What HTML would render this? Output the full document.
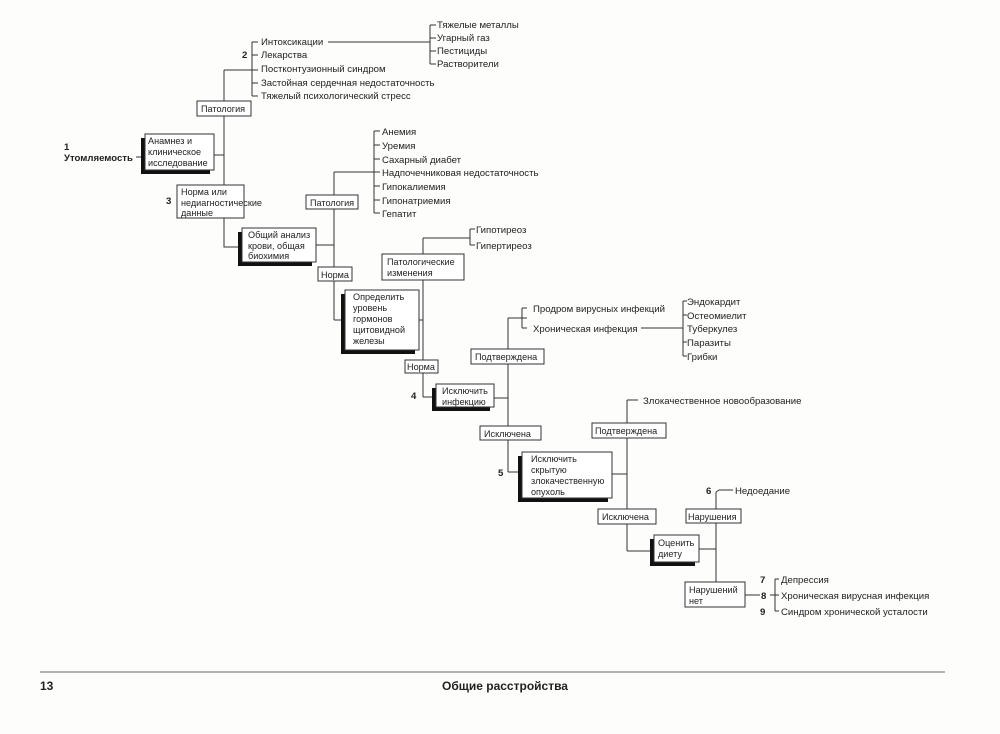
<!DOCTYPE html>
<html><head><meta charset="utf-8"><style>
body{margin:0;background:#fff}
svg{display:block}
text{font-family:"Liberation Sans","DejaVu Sans",sans-serif;font-size:9.6px;fill:#222}
text.s{font-size:9.1px}
.b{font-weight:bold}
line,path,polyline{stroke:#333;stroke-width:1;fill:none}
rect.bx{fill:#fff;stroke:#333;stroke-width:1}
rect.sh{fill:#111}
</style></head><body>
<svg width="1000" height="734" viewBox="0 0 1000 734" xmlns="http://www.w3.org/2000/svg">
<rect width="1000" height="734" fill="#fdfdfc"/>
<text x="64" y="150" class="b">1</text>
<text x="64" y="161" class="b">Утомляемость</text>
<line x1="136" y1="157" x2="145" y2="157"/>
<rect class="sh" x="141" y="138" width="69" height="36"/>
<rect class="bx" x="145" y="134" width="69" height="36"/>
<text class="s" x="148" y="144">Анамнез и</text><text class="s" x="148" y="155">клиническое</text><text class="s" x="148" y="166">исследование</text>
<line x1="214" y1="155" x2="224" y2="155"/>
<line x1="224" y1="70" x2="224" y2="186"/>
<line x1="224" y1="70" x2="258" y2="70"/>
<line x1="252" y1="42" x2="252" y2="96"/>
<line x1="252" y1="42" x2="258" y2="42"/><line x1="252" y1="55" x2="258" y2="55"/><line x1="252" y1="83" x2="258" y2="83"/><line x1="252" y1="96" x2="258" y2="96"/>
<text x="242" y="58" class="b">2</text>
<text x="261" y="45">Интоксикации</text>
<text x="261" y="58">Лекарства</text>
<text x="261" y="72">Постконтузионный синдром</text>
<text x="261" y="86">Застойная сердечная недостаточность</text>
<text x="261" y="99">Тяжелый психологический стресс</text>
<line x1="328" y1="42" x2="430" y2="42"/>
<line x1="430" y1="25" x2="430" y2="64"/>
<line x1="430" y1="25" x2="436" y2="25"/><line x1="430" y1="38" x2="436" y2="38"/><line x1="430" y1="51" x2="436" y2="51"/><line x1="430" y1="64" x2="436" y2="64"/>
<text x="437" y="28">Тяжелые металлы</text>
<text x="437" y="41">Угарный газ</text>
<text x="437" y="54">Пестициды</text>
<text x="437" y="67">Растворители</text>
<rect class="bx" x="197" y="101" width="54" height="15"/>
<text class="s" x="201" y="112">Патология</text>
<text x="166" y="204" class="b">3</text>
<rect class="bx" x="177" y="185" width="67" height="33"/>
<text class="s" x="181" y="195">Норма или</text><text class="s" x="181" y="206">недиагностические</text><text class="s" x="181" y="216">данные</text>
<polyline points="224,218 224,247 242,247"/>
<rect class="sh" x="238" y="232" width="74" height="34"/>
<rect class="bx" x="242" y="228" width="74" height="34"/>
<text class="s" x="248" y="238">Общий анализ</text><text class="s" x="248" y="249">крови, общая</text><text class="s" x="248" y="259">биохимия</text>
<line x1="316" y1="245" x2="334" y2="245"/>
<line x1="334" y1="172" x2="334" y2="320"/>
<line x1="334" y1="172" x2="380" y2="172"/>
<line x1="374" y1="131" x2="374" y2="213"/>
<line x1="374" y1="131" x2="380" y2="131"/><line x1="374" y1="145" x2="380" y2="145"/><line x1="374" y1="159" x2="380" y2="159"/><line x1="374" y1="186" x2="380" y2="186"/><line x1="374" y1="200" x2="380" y2="200"/><line x1="374" y1="213" x2="380" y2="213"/>
<text x="382" y="135">Анемия</text>
<text x="382" y="149">Уремия</text>
<text x="382" y="163">Сахарный диабет</text>
<text x="382" y="176">Надпочечниковая недостаточность</text>
<text x="382" y="190">Гипокалиемия</text>
<text x="382" y="204">Гипонатриемия</text>
<text x="382" y="217">Гепатит</text>
<rect class="bx" x="306" y="195" width="52" height="14"/>
<text class="s" x="310" y="206">Патология</text>
<rect class="bx" x="318" y="267" width="34" height="14"/>
<text class="s" x="321" y="278">Норма</text>
<polyline points="334,320 345,320"/>
<rect class="sh" x="341" y="294" width="74" height="60"/>
<rect class="bx" x="345" y="290" width="74" height="60"/>
<text class="s" x="353" y="300">Определить</text><text class="s" x="353" y="311">уровень</text><text class="s" x="353" y="322">гормонов</text><text class="s" x="353" y="333">щитовидной</text><text class="s" x="353" y="344">железы</text>
<line x1="419" y1="320" x2="423" y2="320"/>
<line x1="423" y1="238" x2="423" y2="397"/>
<line x1="423" y1="238" x2="470" y2="238"/>
<line x1="470" y1="229" x2="470" y2="245"/>
<line x1="470" y1="229" x2="475" y2="229"/><line x1="470" y1="245" x2="475" y2="245"/>
<text x="476" y="233">Гипотиреоз</text>
<text x="476" y="249">Гипертиреоз</text>
<rect class="bx" x="382" y="254" width="82" height="26"/>
<text class="s" x="387" y="265">Патологические</text><text class="s" x="387" y="276">изменения</text>
<rect class="bx" x="405" y="360" width="33" height="13"/>
<text class="s" x="407" y="370">Норма</text>
<text x="411" y="399" class="b">4</text>
<line x1="423" y1="397" x2="436" y2="397"/>
<rect class="sh" x="432" y="388" width="58" height="23"/>
<rect class="bx" x="436" y="384" width="58" height="23"/>
<text class="s" x="442" y="394">Исключить</text><text class="s" x="442" y="405">инфекцию</text>
<line x1="494" y1="398" x2="508" y2="398"/>
<line x1="508" y1="318" x2="508" y2="472"/>
<line x1="508" y1="318" x2="527" y2="318"/>
<line x1="522" y1="308" x2="522" y2="328"/>
<line x1="522" y1="308" x2="527" y2="308"/><line x1="522" y1="328" x2="527" y2="328"/>
<text x="533" y="312">Продром вирусных инфекций</text>
<text x="533" y="332">Хроническая инфекция</text>
<line x1="641" y1="328" x2="683" y2="328"/>
<line x1="683" y1="301" x2="683" y2="356"/>
<line x1="683" y1="301" x2="687" y2="301"/><line x1="683" y1="315" x2="687" y2="315"/><line x1="683" y1="342" x2="687" y2="342"/><line x1="683" y1="356" x2="687" y2="356"/>
<text x="687" y="305">Эндокардит</text>
<text x="687" y="319">Остеомиелит</text>
<text x="687" y="332">Туберкулез</text>
<text x="687" y="346">Паразиты</text>
<text x="687" y="360">Грибки</text>
<rect class="bx" x="471" y="349" width="73" height="15"/>
<text class="s" x="475" y="360">Подтверждена</text>
<rect class="bx" x="480" y="426" width="61" height="14"/>
<text class="s" x="484" y="437">Исключена</text>
<text x="498" y="476" class="b">5</text>
<line x1="508" y1="472" x2="522" y2="472"/>
<rect class="sh" x="518" y="456" width="90" height="46"/>
<rect class="bx" x="522" y="452" width="90" height="46"/>
<text class="s" x="531" y="462">Исключить</text><text class="s" x="531" y="473">скрытую</text><text class="s" x="531" y="484">злокачественную</text><text class="s" x="531" y="495">опухоль</text>
<line x1="612" y1="474" x2="627" y2="474"/>
<line x1="627" y1="400" x2="627" y2="551"/>
<line x1="627" y1="400" x2="638" y2="400"/>
<text x="643" y="404">Злокачественное новообразование</text>
<rect class="bx" x="592" y="423" width="74" height="15"/>
<text class="s" x="595" y="434">Подтверждена</text>
<rect class="bx" x="598" y="509" width="58" height="15"/>
<text class="s" x="602" y="520">Исключена</text>
<line x1="627" y1="551" x2="654" y2="551"/>
<rect class="sh" x="650" y="539" width="45" height="27"/>
<rect class="bx" x="654" y="535" width="45" height="27"/>
<text class="s" x="658" y="546">Оценить</text><text class="s" x="658" y="557">диету</text>
<line x1="699" y1="549" x2="716" y2="549"/>
<line x1="716" y1="492" x2="716" y2="595"/>
<polyline points="716,492 719,490 733,490"/>
<text x="706" y="494" class="b">6</text>
<text x="735" y="494">Недоедание</text>
<rect class="bx" x="686" y="509" width="55" height="14"/>
<text class="s" x="688" y="520">Нарушения</text>
<rect class="bx" x="685" y="582" width="60" height="25"/>
<text class="s" x="689" y="593">Нарушений</text><text class="s" x="689" y="604">нет</text>
<line x1="745" y1="595" x2="760" y2="595"/>
<line x1="775" y1="579" x2="775" y2="611"/>
<line x1="775" y1="579" x2="779" y2="579"/><line x1="770" y1="595" x2="779" y2="595"/><line x1="775" y1="611" x2="779" y2="611"/>
<text x="760" y="583" class="b">7</text>
<text x="761" y="599" class="b">8</text>
<text x="760" y="615" class="b">9</text>
<text x="781" y="583">Депрессия</text>
<text x="781" y="599">Хроническая вирусная инфекция</text>
<text x="781" y="615">Синдром хронической усталости</text>
<line x1="40" y1="672" x2="945" y2="672" style="stroke:#999;stroke-width:1.5"/>
<text x="40" y="690" class="b" style="font-size:12px">13</text>
<text x="442" y="690" class="b" style="font-size:12px">Общие расстройства</text>
</svg>
</body></html>
